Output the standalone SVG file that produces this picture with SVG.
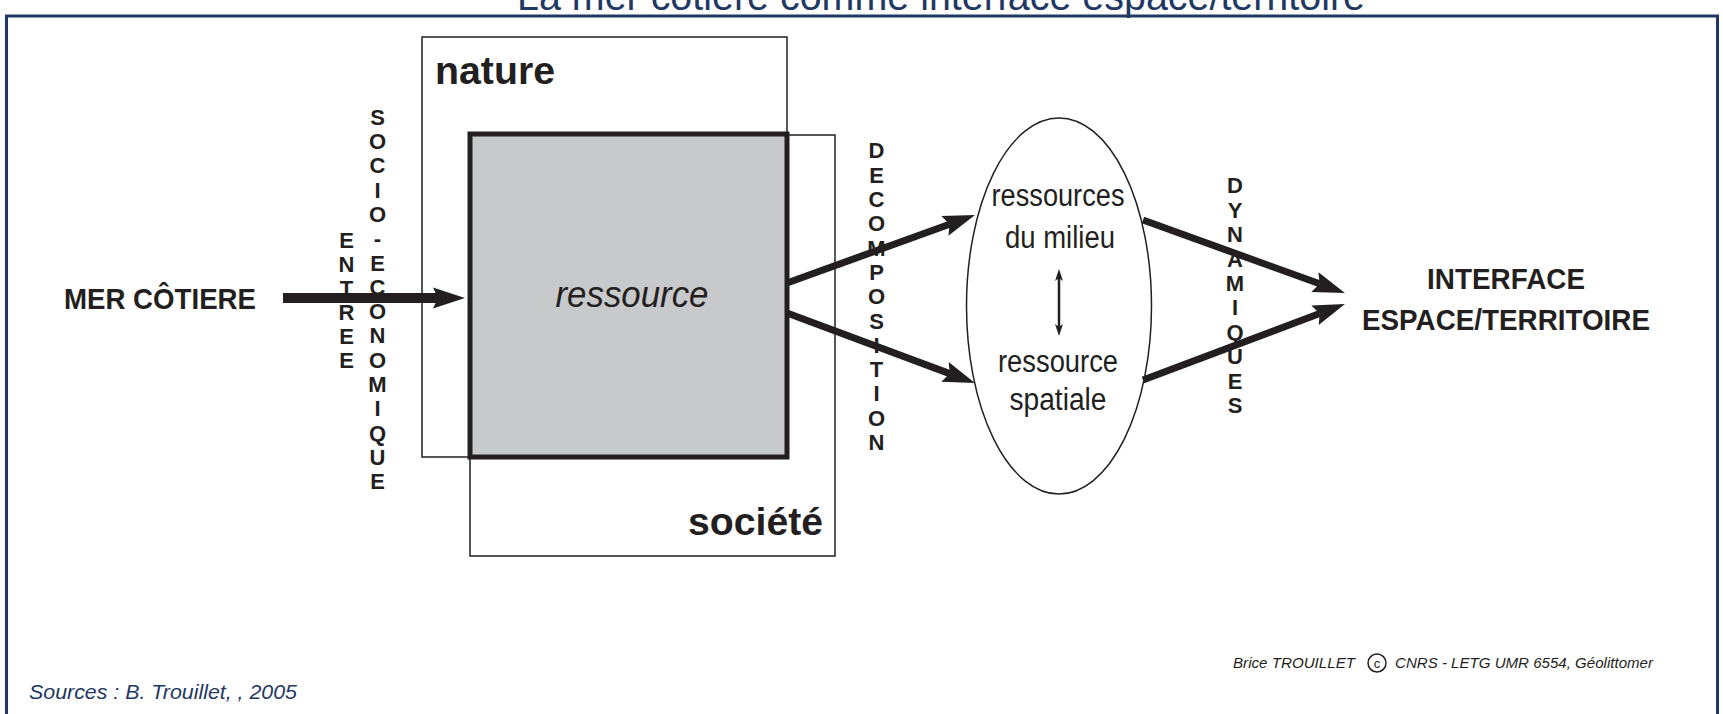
<svg xmlns="http://www.w3.org/2000/svg" width="1723" height="714" viewBox="0 0 1723 714">
<style>
.frame{fill:none;stroke:#1f3864;stroke-width:3}
.title{font-family:"Liberation Sans",Arial,sans-serif;font-size:40px;fill:#1f3864}
.src{font-family:"Liberation Sans",Arial,sans-serif;font-size:21px;font-style:italic;fill:#1f3864}
.box{fill:none;stroke:#231f20;stroke-width:1.5}
.core{fill:#c8c9cb;stroke:#231f20;stroke-width:5}
.lbl{font-family:"Liberation Sans",Arial,sans-serif;fill:#231f20}
.big{font-size:38px;font-weight:bold}
.vert{font-family:"Liberation Sans",Arial,sans-serif;font-size:22px;font-weight:bold;fill:#231f20;text-anchor:middle}
.mid{text-anchor:middle}
.conn{fill:none;stroke:#231f20}
.ell{fill:#fff;stroke:#231f20;stroke-width:1.5}
</style>
<defs>
<marker id="ah" viewBox="-33 -12 34 24" refX="-27" refY="0" markerWidth="34" markerHeight="24" markerUnits="userSpaceOnUse" orient="auto">
<path d="M0,0 L-32,-10.5 L-27,0 L-32,10.5 Z" fill="#231f20"/>
</marker>
<marker id="sh" viewBox="-13 -5 14 10" refX="-9" refY="0" markerWidth="14" markerHeight="10" markerUnits="userSpaceOnUse" orient="auto-start-reverse">
<path d="M0,0 L-12,-4 L-9,0 L-12,4 Z" fill="#231f20"/>
</marker>
</defs>
<rect width="1723" height="714" fill="#fff"/>
<text class="title" x="941" y="10" text-anchor="middle" textLength="848" lengthAdjust="spacingAndGlyphs">La mer côtière comme interface espace/territoire</text>
<path class="frame" d="M6.5,714 V16 H1717.5 V714"/>

<g id="node-nature">
<rect class="box" x="422" y="37" width="365" height="420"/>
<text class="lbl big" x="435" y="84" textLength="120" lengthAdjust="spacingAndGlyphs">nature</text>
</g>
<g id="node-societe">
<rect class="box" x="470" y="135" width="365" height="421"/>
<text class="lbl big" x="823" y="535" text-anchor="end" textLength="135" lengthAdjust="spacingAndGlyphs">société</text>
</g>
<g id="node-ressource">
<rect class="core" x="470" y="134" width="317" height="323"/>
<text class="lbl" x="632" y="307" text-anchor="middle" font-size="36" font-style="italic" textLength="153" lengthAdjust="spacingAndGlyphs">ressource</text>
</g>
<g id="node-mer">
<text class="lbl" x="64" y="309" font-size="30" font-weight="bold" textLength="192" lengthAdjust="spacingAndGlyphs">MER CÔTIERE</text>
</g>
<g id="node-milieu">
<ellipse class="ell" cx="1059" cy="306" rx="92.5" ry="188"/>
<text class="lbl mid" x="1058" y="206" font-size="31" textLength="133" lengthAdjust="spacingAndGlyphs">ressources</text>
<text class="lbl mid" x="1060" y="248" font-size="31" textLength="110" lengthAdjust="spacingAndGlyphs">du milieu</text>
<text class="lbl mid" x="1058" y="372" font-size="31" textLength="120" lengthAdjust="spacingAndGlyphs">ressource</text>
<text class="lbl mid" x="1058" y="410" font-size="31" textLength="97" lengthAdjust="spacingAndGlyphs">spatiale</text>
</g>
<g id="node-interface">
<text class="lbl mid" x="1506" y="289" font-size="29" font-weight="bold" textLength="158" lengthAdjust="spacingAndGlyphs">INTERFACE</text>
<text class="lbl mid" x="1506" y="330" font-size="29" font-weight="bold" textLength="288" lengthAdjust="spacingAndGlyphs">ESPACE/TERRITOIRE</text>
</g>

<g id="connectors">
<line class="conn" x1="283" y1="298" x2="438" y2="298" stroke-width="10" marker-end="url(#ah)"/>
<line class="conn" x1="787" y1="283" x2="949.6" y2="224.2" stroke-width="7" marker-end="url(#ah)"/>
<line class="conn" x1="787" y1="313" x2="949.7" y2="373.6" stroke-width="7" marker-end="url(#ah)"/>
<line class="conn" x1="1143" y1="220" x2="1319.6" y2="283.8" stroke-width="7" marker-end="url(#ah)"/>
<line class="conn" x1="1143" y1="380" x2="1319.7" y2="313.5" stroke-width="7" marker-end="url(#ah)"/>
<line class="conn" x1="1059" y1="278" x2="1059" y2="327" stroke-width="2.5" marker-start="url(#sh)" marker-end="url(#sh)"/>
<text class="vert" x="346.5" y="248.4"><tspan x="346.5">E</tspan><tspan x="346.5" dy="24">N</tspan><tspan x="346.5" dy="24">T</tspan><tspan x="346.5" dy="24">R</tspan><tspan x="346.5" dy="24">E</tspan><tspan x="346.5" dy="24">E</tspan></text>
<text class="vert" x="377.5" y="124.7"><tspan x="377.5">S</tspan><tspan x="377.5" dy="24.3">O</tspan><tspan x="377.5" dy="24.3">C</tspan><tspan x="377.5" dy="24.3">I</tspan><tspan x="377.5" dy="24.3">O</tspan><tspan x="377.5" dy="24.3">-</tspan><tspan x="377.5" dy="24.3">E</tspan><tspan x="377.5" dy="24.3">C</tspan><tspan x="377.5" dy="24.3">O</tspan><tspan x="377.5" dy="24.3">N</tspan><tspan x="377.5" dy="24.3">O</tspan><tspan x="377.5" dy="24.3">M</tspan><tspan x="377.5" dy="24.3">I</tspan><tspan x="377.5" dy="24.3">Q</tspan><tspan x="377.5" dy="24.3">U</tspan><tspan x="377.5" dy="24.3">E</tspan></text>
<text class="vert" x="876.5" y="158.4"><tspan x="876.5">D</tspan><tspan x="876.5" dy="24.3">E</tspan><tspan x="876.5" dy="24.3">C</tspan><tspan x="876.5" dy="24.3">O</tspan><tspan x="876.5" dy="24.3">M</tspan><tspan x="876.5" dy="24.3">P</tspan><tspan x="876.5" dy="24.3">O</tspan><tspan x="876.5" dy="24.3">S</tspan><tspan x="876.5" dy="24.3">I</tspan><tspan x="876.5" dy="24.3">T</tspan><tspan x="876.5" dy="24.3">I</tspan><tspan x="876.5" dy="24.3">O</tspan><tspan x="876.5" dy="24.3">N</tspan></text>
<text class="vert" x="1235" y="193.4"><tspan x="1235">D</tspan><tspan x="1235" dy="24.4">Y</tspan><tspan x="1235" dy="24.4">N</tspan><tspan x="1235" dy="24.4">A</tspan><tspan x="1235" dy="24.4">M</tspan><tspan x="1235" dy="24.4">I</tspan><tspan x="1235" dy="24.4">Q</tspan><tspan x="1235" dy="24.4">U</tspan><tspan x="1235" dy="24.4">E</tspan><tspan x="1235" dy="24.4">S</tspan></text>
</g>

<text class="lbl" x="1233" y="668" font-size="15" font-style="italic" textLength="122" lengthAdjust="spacingAndGlyphs">Brice TROUILLET</text>
<circle cx="1377" cy="663" r="9" fill="none" stroke="#231f20" stroke-width="1.5"/>
<text class="lbl mid" x="1377" y="668" font-size="13">c</text>
<text class="lbl" x="1395" y="668" font-size="15" font-style="italic" textLength="258" lengthAdjust="spacingAndGlyphs">CNRS - LETG UMR 6554, Géolittomer</text>
<text class="src" x="29" y="699" textLength="268" lengthAdjust="spacingAndGlyphs">Sources : B. Trouillet, , 2005</text>
</svg>
